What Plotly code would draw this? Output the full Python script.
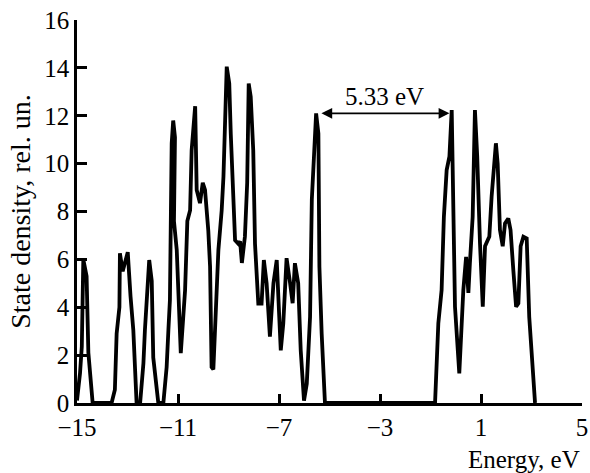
import plotly.graph_objects as go

energy = [-15.0, -14.88, -14.81, -14.75, -14.62, -14.55, -14.38, -13.63, -13.5, -13.43, -13.32, -13.3,
          -13.19, -13.1, -12.99, -12.88, -12.77, -12.64, -12.5, -12.37, -12.31, -12.14, -12.04, -11.98,
          -11.78, -11.58, -11.45, -11.38, -11.32, -11.25, -11.19, -11.12, -11.16, -11.05, -10.89, -10.72,
          -10.63, -10.52, -10.46, -10.32, -10.26, -10.13, -10.02, -9.93, -9.8, -9.73, -9.67, -9.6, -9.47,
          -9.4, -9.27, -9.2, -9.07, -8.97, -8.91, -8.81, -8.74, -8.61, -8.54, -8.47, -8.35, -8.26, -8.2,
          -8.12, -8.02, -7.95, -7.82, -7.69, -7.6, -7.49, -7.36, -7.22, -7.09, -6.99, -6.93, -6.83, -6.7,
          -6.56, -6.46, -6.37, -6.24, -6.14, -6.01, -5.9, -5.77, -5.7, -5.53, -5.44, -5.4, -5.31, -5.18,
          -0.82, -0.69, -0.56, -0.47, -0.36, -0.25, -0.16, -0.12, -0.03, 0.14, 0.24, 0.3, 0.41, 0.5, 0.56,
          0.67, 0.76, 0.85, 0.96, 1.07, 1.16, 1.33, 1.42, 1.59, 1.66, 1.75, 1.86, 1.95, 2.08, 2.17, 2.28,
          2.39, 2.48, 2.57, 2.68, 2.81, 2.91, 3.14]
density = [0.1, 1.25, 2.35, 6.0, 5.3, 2.1, 0.0, 0.0, 0.55, 2.9, 4.0, 6.25,
           5.5, 5.85, 6.3, 4.45, 3.05, 0.0, 0.0, 1.65, 3.05, 5.97, 5.1, 1.9,
           0.0, 0.0, 1.5, 3.05, 4.3, 10.85, 11.8, 11.1, 7.6, 6.4, 2.08, 4.7,
           7.6, 8.05, 10.55, 12.4, 8.9, 8.35, 9.2, 8.9, 7.2, 5.7, 1.5, 1.4, 4.7,
           6.4, 8.05, 9.45, 14.05, 13.35, 11.25, 8.75, 6.8, 6.65, 6.75, 5.85, 6.95, 9.2, 13.35,
           12.8, 10.55, 6.65, 4.15, 4.15, 5.97, 5.0, 2.77, 5.0, 5.97, 3.6, 2.2, 3.33, 6.05,
           5.0, 4.17, 5.84, 5.0, 2.2, 0.1, 0.8, 3.6, 8.5, 12.1, 11.25, 5.7, 2.9, 0.0,
           0.0, 3.33, 4.72, 7.78, 9.73, 10.3, 12.24, 9.6, 4.02, 1.24, 3.33, 4.72, 6.1, 4.6, 5.84,
           7.78, 12.24, 10.3, 6.67, 4.02, 6.55, 6.95, 8.62, 10.85, 10.0, 7.23, 6.55, 7.5, 7.71, 7.23, 5.55,
           4.02, 4.16, 6.55, 6.95, 6.88, 3.6, 0.0]

x_ticks = [-15, -11, -7, -3, 1, 5]
y_ticks = [0, 2, 4, 6, 8, 10, 12, 14, 16]
gap_start, gap_end, gap_level = -5.38, -0.25, 12.1
gap_label = "5.33 eV"

font = dict(family="Liberation Serif", size=25, color="black")

fig = go.Figure()
fig.add_trace(go.Scatter(x=energy, y=density, mode="lines",
                         line=dict(color="black", width=3.8), cliponaxis=False,
                         showlegend=False, hoverinfo="skip"))

fig.add_annotation(x=gap_end, y=gap_level, ax=gap_start, ay=gap_level,
                   xref="x", yref="y", axref="x", ayref="y", text="",
                   showarrow=True, arrowhead=2, startarrowhead=2, arrowside="end+start",
                   arrowsize=1.2, arrowwidth=1.8, arrowcolor="black")
fig.add_annotation(x=(gap_start + gap_end) / 2, y=gap_level, xref="x", yref="y",
                   text=gap_label, showarrow=False, yanchor="bottom", yshift=1,
                   font=font)
fig.add_annotation(x=1, y=0, xref="paper", yref="paper", text="Energy, eV",
                   showarrow=False, xanchor="right", yanchor="top", yshift=-41, font=font)

fig.update_layout(
    width=590, height=473,
    margin=dict(l=77, r=8, t=20, b=70),
    plot_bgcolor="white", paper_bgcolor="white",
    font=font,
    xaxis=dict(range=[-15, 5], tickvals=x_ticks, ticktext=[str(v).replace("-", "\u2212") for v in x_ticks],
               showgrid=False, zeroline=False, showline=True, linecolor="black", linewidth=2.5,
               ticks="inside", ticklen=9, tickwidth=2.5, tickcolor="black", tickfont=font,
               automargin=False),
    yaxis=dict(range=[0, 16], tickvals=y_ticks, showgrid=False, zeroline=False, showline=True,
               linecolor="black", linewidth=2.5, ticks="inside", ticklen=10, tickwidth=2.5,
               tickcolor="black", tickfont=font, automargin=False,
               title=dict(text="State density, rel. un.",
                          font=dict(family="Liberation Serif", size=28, color="black"), standoff=6)),
)

# remove the browser's default 8 px page margin so the figure sits at the window's corner
fig.write_html("out.html", config={"displayModeBar": False},
               post_script="document.body.style.margin='0';")
